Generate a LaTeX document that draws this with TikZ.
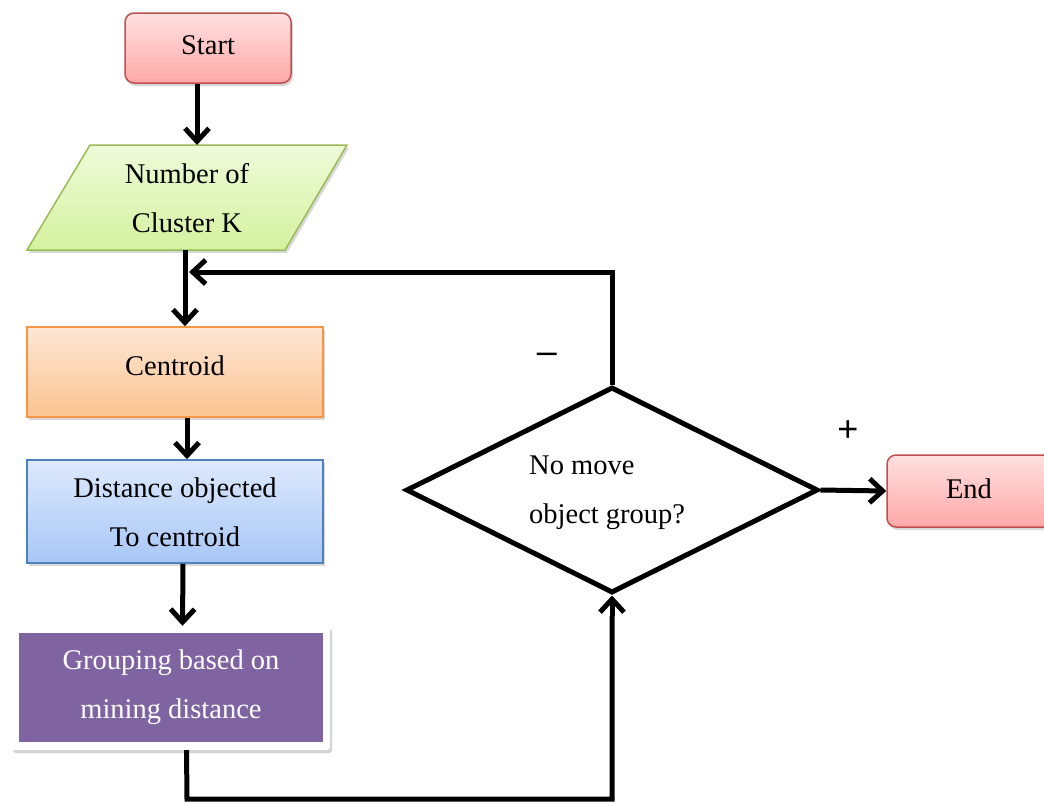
\documentclass[tikz,border=0pt]{standalone}
\usepackage{fontspec}
\setmainfont{Liberation Serif}
\newfontfamily\signfont{Liberation Sans}
\usetikzlibrary{arrows.meta,shapes.geometric,shadows}
\definecolor{redB}{HTML}{C0504D}
\definecolor{redT}{HTML}{FFE0E0}
\definecolor{redM}{HTML}{FFA8A8}
\definecolor{grB}{HTML}{9BBB59}
\definecolor{grT}{HTML}{EEFAD8}
\definecolor{grM}{HTML}{D4F2A0}
\definecolor{orB}{HTML}{F79646}
\definecolor{orT}{HTML}{FDE6D4}
\definecolor{orM}{HTML}{FBC391}
\definecolor{blB}{HTML}{4F81BD}
\definecolor{blT}{HTML}{DDE9FC}
\definecolor{blM}{HTML}{A8C7F7}
\definecolor{purp}{HTML}{8064A2}
\tikzset{
  txt/.style={font=\fontsize{28.5}{49}\selectfont, align=center, inner sep=0pt},
  shad/.style={drop shadow={opacity=0.3, shadow xshift=2pt, shadow yshift=-3pt}},
  startend/.style={rounded corners=9pt, draw=redB, line width=1.5pt, top color=redT, bottom color=redM, shad, inner sep=0pt},
  procbox/.style={draw, line width=1.5pt, shad, inner sep=0pt},
  arr/.style={line width=5pt, -{Straight Barb[length=13pt,width=24pt,line width=5pt]}},
  sign/.style={font=\signfont\fontsize{36}{38}\selectfont, inner sep=0pt}
}
\begin{document}
\begin{tikzpicture}[x=1pt,y=-1pt]
\useasboundingbox (0,0) rectangle (1044,804);
\fill[white] (0,0) rectangle (1044,804);
% Start
\node[startend, minimum width=166pt, minimum height=70pt] (start) at (208,48) {};
\node[txt] (starttxt) at (208,45) {Start};
% Number of cluster (parallelogram)
\coordinate (pTL) at (90,145);
\coordinate (pTR) at (347,145);
\coordinate (pBR) at (285,250);
\coordinate (pBL) at (27,250);
\path[shad, draw=grB, line width=1.5pt, top color=grT, bottom color=grM] (pTL) -- (pTR) -- (pBR) -- (pBL) -- cycle;
\node[txt] (num) at (187,198) {Number of\\Cluster K};
\coordinate (numtop) at (197,145);
\coordinate (numbot) at (185,250);
% Centroid
\node[procbox, draw=orB, top color=orT, bottom color=orM, minimum width=296pt, minimum height=90pt] (cen) at (175,372) {};
\node[txt] (centxt) at (175,366) {Centroid};
% Distance
\node[procbox, draw=blB, top color=blT, bottom color=blM, minimum width=296pt, minimum height=103pt] (dist) at (175,511.5) {};
\node[txt] (disttxt) at (175,512) {Distance objected\\To centroid};
% Grouping
\node[fill=white, rounded corners=3pt, minimum width=319pt, minimum height=124pt, inner sep=0pt, drop shadow={opacity=0.35, shadow xshift=2pt, shadow yshift=-3pt}] (grpframe) at (170.5,688) {};
\node[txt, fill=purp, text=white, minimum width=304pt, minimum height=109pt] (grp) at (171,687.5) {Grouping based on\\mining distance};
% Decision
\node[diamond, draw, line width=5pt, minimum width=412pt, minimum height=206pt, inner sep=0pt, aspect=2] (dec) at (612,490) {};
\node[txt, align=left, anchor=west] (dectxt) at (529,493) {No move\\object group?};
% End
\node[startend, minimum width=168pt, minimum height=72pt] (end) at (971,491) {};
\node[txt] (endtxt) at (969,489) {End};
% signs
\node[sign] (minus) at (547,358) {–};
\node[sign] (plus) at (848,431) {+};
% connectors
\draw[arr] (start.south -| numtop) -- (numtop);
\draw[arr] (numbot) -- (numbot |- cen.north);
\draw[arr] ([xshift=12pt]cen.south) -- ([xshift=12pt]dist.north);
\draw[arr] ([xshift=8pt]dist.south) -- ([xshift=12pt]grpframe.north);
\coordinate (bl) at (187,799);
\draw[line width=5pt] ([xshift=16pt]grpframe.south) -- (bl) -- (bl -| dec.south) -- ([yshift=-20pt]dec.south);
\draw[arr] ([yshift=-20pt]dec.south) -- (dec.south);
\coordinate (tl) at (189,272);
\draw[arr] (dec.north) -- (dec.north |- tl) -- (tl);
\draw[arr] (dec.east) -- (end.west);
\end{tikzpicture}
\end{document}
